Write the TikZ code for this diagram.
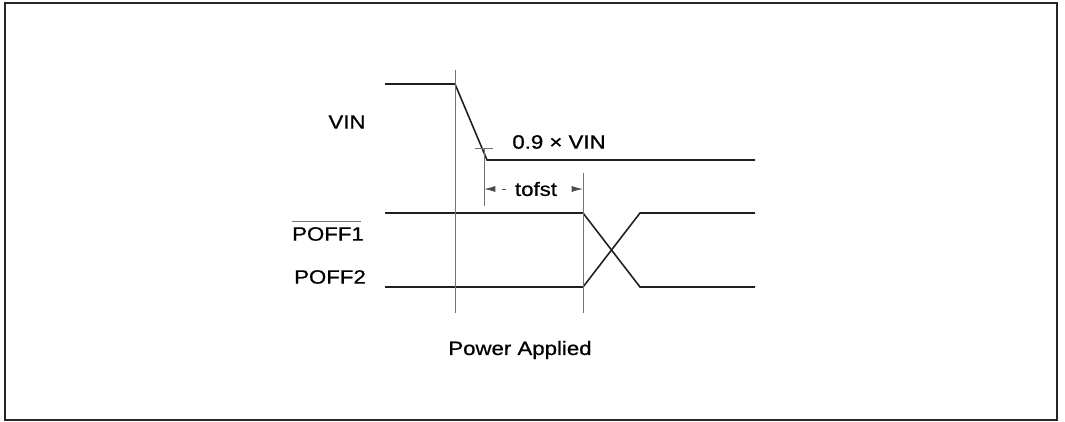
\documentclass[tikz,border=0pt]{standalone}
\usepackage{fontspec}
\usepackage{graphicx}
\setmainfont{Liberation Sans}
\newfontfamily\labelfont[FakeBold=0.6]{Liberation Sans}
\usetikzlibrary{arrows.meta}

% the printed lettering is a little wide
\newcommand{\widetext}[1]{\scalebox{1.15}[1]{#1}}

\begin{document}
\begin{tikzpicture}[
  x=0.02cm, y=-0.02cm,
  line join=miter,
  every node/.style={font=\labelfont\fontsize{11}{13}\selectfont},
  signal/.style={line width=0.9pt,black!88},
  guide/.style={line width=0.5pt,black!55},
  dimline/.style={line width=0.5pt,black!70,dash pattern=on 0pt off 3pt on 2pt off 20pt},
  dimtip/.style={-{Latex[length=6.5pt,width=3.5pt]}},
  frame/.style={line width=1pt,black!85}
]
\useasboundingbox (0,0) rectangle (1065,422);

% ------------------------------------------------------------------
% Frame
% ------------------------------------------------------------------
\draw[frame] (5,3) rectangle (1057,420);

% ------------------------------------------------------------------
% VIN
% ------------------------------------------------------------------
\coordinate (V1) at (385,84);
\coordinate (V2) at (455,84);
\coordinate (V3) at (487,160);
\coordinate (V4) at (755,160);

\draw[signal] (V1)--(V2)--(V3)--(V4);
\node (vin) at (347,122) {\widetext{VIN}};

% 0.9 x VIN mark
\coordinate (M1) at (475,148);
\coordinate (M2) at (493,148);
\draw[guide] (M1)--(M2);
\node (level) at (559,142) {\widetext{0.9 × VIN}};

% ------------------------------------------------------------------
% POFF1 / POFF2
% ------------------------------------------------------------------
\coordinate (P1) at (385,213);
\coordinate (P2) at (583,213);
\coordinate (P3) at (640,287);
\coordinate (P4) at (755,287);
\coordinate (Q1) at (385,287);
\coordinate (Q2) at (583,287);
\coordinate (Q3) at (640,213);
\coordinate (Q4) at (755,213);

\draw[signal] (P1)--(P2)--(P3)--(P4);
\draw[signal] (Q1)--(Q2)--(Q3)--(Q4);

\node[inner xsep=0pt] (poffa) at (328,234) {\widetext{POFF1}};
\draw[guide] (poffa.north west) -- ([xshift=-2pt]poffa.north east);
\node (poffb) at (330,277) {\widetext{POFF2}};

% ------------------------------------------------------------------
% Guides and tofst
% ------------------------------------------------------------------
\coordinate (G1) at (455,70);
\coordinate (G2) at (455,313);
\coordinate (H1) at (484,148);
\coordinate (H2) at (484,206);
\coordinate (K1) at (583,173);
\coordinate (K2) at (583,313);

\draw[guide] (G1)--(G2);
\draw[guide] (H1)--(H2);
\draw[guide] (K1)--(K2);

\node[inner xsep=2pt] (tofst) at (536,189) {\widetext{tofst}};
\draw[dimline,dimtip] (tofst.west) -- (H1 |- tofst);
\draw[dimline,dimtip,dash pattern=on 0pt off 20pt] (tofst.east) -- (K1 |- tofst);

\node (power) at (520,350) {\widetext{Power Applied}};

\end{tikzpicture}
\end{document}
